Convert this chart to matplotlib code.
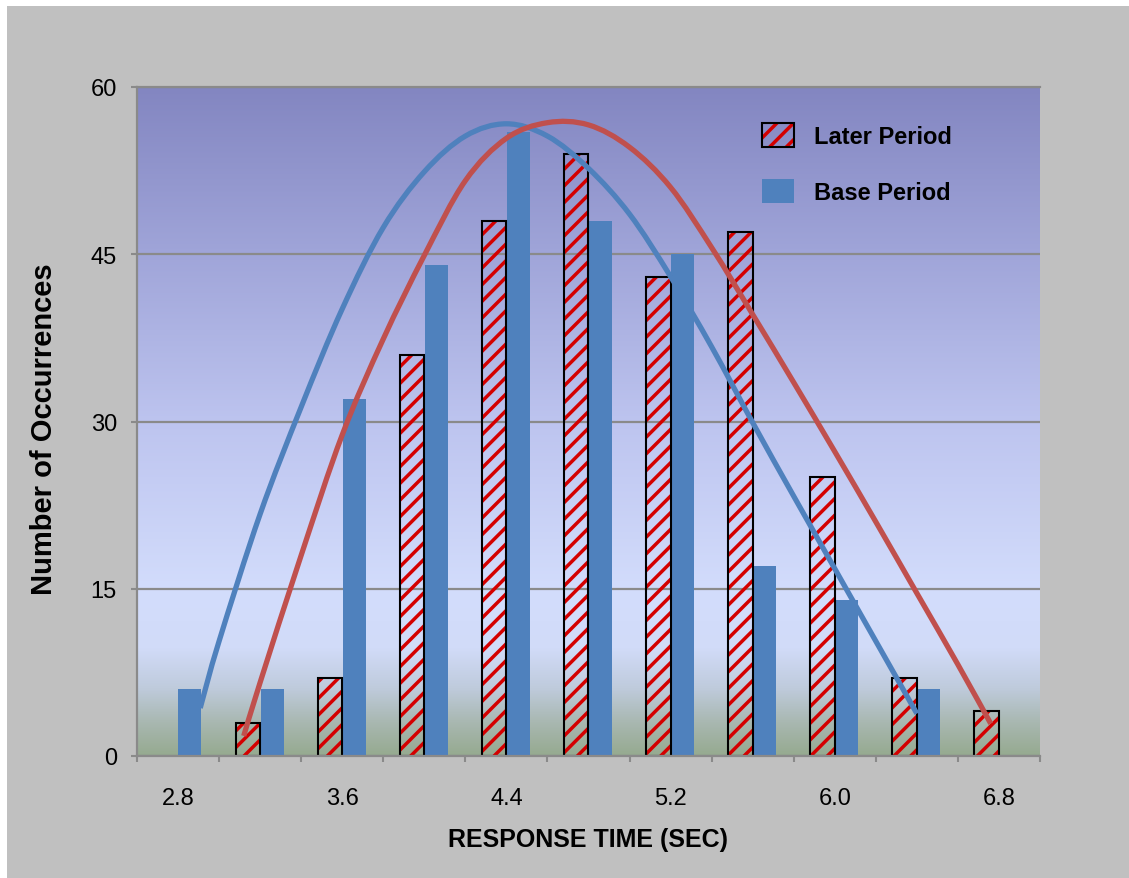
import numpy as np
import matplotlib
matplotlib.use("Agg")
import matplotlib.pyplot as plt
from matplotlib.colors import LinearSegmentedColormap
from matplotlib.patches import Patch, Rectangle, PathPatch
from matplotlib.path import Path

plt.rcParams['font.family'] = ['Liberation Sans', 'DejaVu Sans']
plt.rcParams['hatch.linewidth'] = 2.5

# response time bins (sec)
categories = ['2.8', '3.2', '3.6', '4.0', '4.4', '4.8', '5.2', '5.6', '6.0', '6.4', '6.8']
later = [0, 3, 7, 36, 48, 54, 43, 47, 25, 7, 4]
base = [6, 6, 32, 44, 56, 48, 45, 17, 14, 6, 0]

# fitted curves (x in bin index units)
base_curve_x = [0.27, 0.5, 1.0, 1.5, 2.0, 2.5, 3.0, 3.5, 4.0, 4.5, 5.0, 5.5, 6.0,
                6.5, 7.0, 7.5, 8.0, 8.5, 9.0]
base_curve_y = [4.3, 10.3, 21.7, 31.3, 40.1, 47.4, 52.4, 55.6, 56.7, 55.6, 52.7, 48.6, 43.0,
                36.7, 29.9, 23.3, 16.8, 10.3, 3.8]
later_curve_x = [0.80, 1.0, 1.5, 2.0, 2.5, 3.0, 3.5, 4.0, 4.5, 5.0, 5.5, 6.0, 6.5,
                 7.0, 7.5, 8.0, 8.5, 9.0, 9.5, 9.9]
later_curve_y = [1.8, 6.6, 18.0, 28.8, 37.4, 44.9, 51.6, 55.4, 56.8, 56.6, 54.6, 51.0, 45.6,
                 39.6, 33.5, 27.3, 21.0, 14.6, 8.2, 2.9]


def smooth_path(xs, ys):
    # smoothed line through the given points (bezier segments, like a "smoothed line" chart)
    p = np.column_stack([xs, ys]).astype(float)
    ext = np.vstack([p[0], p, p[-1]])
    verts = [p[0]]
    codes = [Path.MOVETO]
    for i in range(len(p) - 1):
        a, b, c, d = ext[i], ext[i + 1], ext[i + 2], ext[i + 3]
        verts += [b + (c - a) / 6, c - (d - b) / 6, c]
        codes += [Path.CURVE4] * 3
    return Path(verts, codes)


W, H = 1129, 879
fig = plt.figure(figsize=(W / 100, H / 100), dpi=100, facecolor='white')
fig.patches.append(Rectangle((7 / W, -0.01), 1.01, 1.01 - 7 / H, transform=fig.transFigure,
                             facecolor='#c0c0c0', edgecolor='none', zorder=-10))
ax = fig.add_axes([137 / W, 1 - 757 / H, 903 / W, 669 / H])

# plot-area gradient
cmap = LinearSegmentedColormap.from_list('bg', [
    (0.00, '#96aa90'), (0.05, '#a9b8b2'), (0.10, '#bfcbdc'), (0.16, '#d1dbf8'),
    (0.24, '#d3ddfc'), (0.50, '#bdc4ef'), (0.75, '#a0a5d9'), (1.00, '#8386c1')])
grad = np.linspace(0, 1, 256).reshape(-1, 1)
ax.imshow(grad, extent=(-0.5, 10.5, 0, 60), origin='lower', aspect='auto', cmap=cmap, zorder=0)

x = np.arange(len(categories))
later_a = np.array(later)
base_a = np.array(base)
ml = later_a > 0
mb = base_a > 0

ax.bar(x[ml] - 0.15, later_a[ml], 0.30, facecolor='none', edgecolor='#d40000',
       hatch='//', lw=0, zorder=2)
ax.bar(x[ml] - 0.15, later_a[ml], 0.30, fill=False, edgecolor='black', lw=1.5, zorder=2.1)
ax.bar(x[mb] + 0.145, base_a[mb], 0.28, color='#4f81bd', zorder=2)

ax.add_patch(PathPatch(smooth_path(base_curve_x, base_curve_y), fill=False,
                       edgecolor='#4f81bd', lw=3.8, zorder=3, capstyle='butt'))
ax.add_patch(PathPatch(smooth_path(later_curve_x, later_curve_y), fill=False,
                       edgecolor='#c0504d', lw=3.8, zorder=3, capstyle='butt'))

ax.set_xlim(-0.5, 10.5)
ax.set_ylim(0, 60)
ax.set_axisbelow(True)
ax.yaxis.grid(True, color='#8a8a8a', lw=1.6)

ax.spines['right'].set_visible(False)
for s in ['left', 'bottom', 'top']:
    ax.spines[s].set_color('#8a8a8a')
    ax.spines[s].set_linewidth(1.6)

ax.set_yticks([0, 15, 30, 45, 60])
ax.tick_params(axis='y', direction='out', length=4.5, width=1.5, color='#8a8a8a',
               labelsize=17, pad=10)
ax.set_xticks(np.arange(-0.5, 11, 1))
ax.set_xticklabels([])
ax.set_xticks(x[::2], minor=True)
ax.set_xticklabels(categories[::2], minor=True)
ax.tick_params(axis='x', which='major', direction='out', length=4.5, width=1.5, color='#8a8a8a')
ax.tick_params(axis='x', which='minor', length=0, labelsize=17, pad=22)

ax.set_ylabel('Number of Occurrences', fontsize=21, fontweight='bold')
ax.yaxis.set_label_coords(-0.088, 0.49)
ax.set_xlabel('RESPONSE TIME (SEC)', fontsize=18, fontweight='bold')
ax.xaxis.set_label_coords(0.5, -0.106)

h_later = (Patch(facecolor='none', edgecolor='#d40000', hatch='//', lw=0),
           Patch(fill=False, edgecolor='black', lw=1.5))
h_base = Patch(facecolor='#4f81bd', edgecolor='none')
ax.legend([h_later, h_base], ['Later Period', 'Base Period'], loc='upper left',
          bbox_to_anchor=(0.692, 0.946), frameon=False,
          prop={'weight': 'bold', 'size': 17}, handlelength=1.36, handleheight=1.19,
          handletextpad=0.85, labelspacing=1.3, borderpad=0, borderaxespad=0)

fig.savefig('out.png', dpi=100, facecolor=fig.get_facecolor())
